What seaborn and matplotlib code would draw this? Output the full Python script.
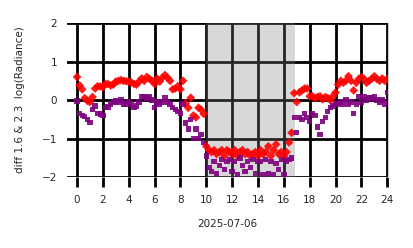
import numpy as np
import pandas as pd
import matplotlib
matplotlib.use("Agg")
import matplotlib.pyplot as plt
import seaborn as sns

# hours of day (2025-07-06)
hours = [0.0, 0.2, 0.4, 0.6, 0.8, 1.0, 1.2, 1.4, 1.6, 1.8,
         2.0, 2.2, 2.4, 2.6, 2.8, 3.0, 3.2, 3.4, 3.6, 3.8,
         4.0, 4.2, 4.4, 4.6, 4.8, 5.0, 5.2, 5.4, 5.6, 5.8,
         6.0, 6.2, 6.4, 6.6, 6.8, 7.0, 7.2, 7.4, 7.6, 7.8,
         8.0, 8.2, 8.4, 8.6, 8.8, 9.0, 9.2, 9.4, 9.6, 9.8,
         10.0, 10.2, 10.4, 10.6, 10.8, 11.0, 11.2, 11.4, 11.6, 11.8,
         12.0, 12.2, 12.4, 12.6, 12.8, 13.0, 13.2, 13.4, 13.6, 13.8,
         14.0, 14.2, 14.4, 14.6, 14.8, 15.0, 15.2, 15.4, 15.6, 15.8,
         16.0, 16.2, 16.4, 16.6, 16.8, 17.0, 17.2, 17.4, 17.6, 17.8,
         18.0, 18.2, 18.4, 18.6, 18.8, 19.0, 19.2, 19.4, 19.6, 19.8,
         20.0, 20.2, 20.4, 20.6, 20.8, 21.0, 21.2, 21.4, 21.6, 21.8,
         22.0, 22.2, 22.4, 22.6, 22.8, 23.0, 23.2, 23.4, 23.6, 23.8,
         24.0]

# red diamonds: diff of 1.6 um log radiance
diff_16 = [0.6, 0.38, 0.28, 0.05, -0.02, -0.05, 0.08, 0.3, 0.36, 0.35,
           0.34, 0.42, 0.42, 0.38, 0.4, 0.48, 0.5, 0.52, 0.5, 0.49,
           0.48, 0.46, 0.42, 0.4, 0.48, 0.56, 0.5, 0.6, 0.55, 0.5,
           0.42, 0.56, 0.48, 0.58, 0.65, 0.58, 0.5, 0.28, 0.3, 0.36,
           0.28, 0.5, -0.08, -0.2, 0.06, -0.4, -0.45, -0.2, -0.25, -0.36,
           -1.2, -1.3, -1.35, -1.3, -1.4, -1.35, -1.3, -1.45, -1.3, -1.35,
           -1.4, -1.3, -1.45, -1.35, -1.3, -1.4, -1.35, -1.45, -1.4, -1.35,
           -1.45, -1.3, -1.4, -1.35, -1.2, -1.45, -1.3, -1.15, -1.4, -1.35,
           -1.45, -1.35, -1.1, -0.85, 0.18, -0.05, 0.2, 0.25, 0.3, 0.3,
           0.1, 0.1, 0.05, 0.08, 0.1, 0.02, 0.08, 0.05, 0.0, 0.1,
           0.2, 0.4, 0.5, 0.45, 0.5, 0.62, 0.5, 0.25, 0.45, 0.55,
           0.6, 0.55, 0.45, 0.5, 0.55, 0.62, 0.55, 0.5, 0.56, 0.5,
           0.55]

# purple squares: diff of 2.3 um log radiance
diff_23 = [-0.02, -0.35, -0.4, -0.42, -0.5, -0.58, -0.25, -0.15, -0.35, -0.36,
           -0.4, -0.2, -0.18, -0.1, -0.05, -0.02, -0.05, 0.0, -0.1, -0.1,
           -0.05, -0.1, -0.2, -0.15, -0.05, 0.1, 0.1, 0.05, 0.1, 0.0,
           -0.2, -0.05, -0.1, -0.05, 0.05, -0.05, -0.1, -0.2, -0.25, -0.3,
           -0.35, -0.1, -0.6, -0.75, -0.5, -1.0, -0.75, -1.0, -0.9, -1.1,
           -1.45, -1.75, -1.85, -1.6, -1.9, -1.7, -1.55, -1.8, -1.6, -1.55,
           -1.85, -1.6, -1.95, -1.5, -1.7, -1.85, -1.6, -1.75, -1.55, -1.9,
           -1.6, -1.6, -1.95, -1.55, -1.9, -1.6, -1.95, -1.65, -1.8, -1.55,
           -1.95, -1.6, -1.55, -1.5, -0.45, -0.85, -0.45, -0.5, -0.35, -0.45,
           -0.55, -0.35, -0.4, -0.7, -0.9, -0.55, -0.45, -0.3, -0.2, -0.15,
           -0.1, -0.1, -0.05, -0.1, 0.02, -0.1, -0.05, -0.35, -0.1, 0.1,
           -0.05, 0.1, 0.0, 0.05, 0.05, 0.1, 0.0, -0.05, 0.0, -0.1,
           0.2]

x_ticks = [0, 2, 4, 6, 8, 10, 12, 14, 16, 18, 20, 22, 24]
y_ticks = [-2, -1, 0, 1, 2]
night_start, night_end = 10.0, 16.85

df = pd.DataFrame({"hour": hours, "d16": diff_16, "d23": diff_23})

sns.set_style("whitegrid", {"grid.color": "black", "axes.edgecolor": "#cccccc"})
plt.rcParams["font.family"] = ["DejaVu Sans"]

fig = plt.figure(figsize=(4.14, 2.48), dpi=100)
ax = fig.add_axes([0.162, 0.286, 0.775, 0.621])

ax.axvspan(night_start, night_end, color="gray", alpha=0.3, lw=0, zorder=0.6)

sns.scatterplot(data=df, x="hour", y="d16", ax=ax, marker="D", color="red",
                s=20, edgecolor="none", alpha=0.9, zorder=3)
sns.scatterplot(data=df, x="hour", y="d23", ax=ax, marker="s", color="purple",
                s=15, edgecolor="none", alpha=0.9, zorder=3)

ax.grid(True, color="black", linewidth=2.0)
ax.set_axisbelow(True)
for side in ["left", "top", "bottom"]:
    ax.spines[side].set_visible(False)
ax.set_xlim(-0.77, 24.05)
ax.set_ylim(-2, 2)
ax.set_xticks(x_ticks)
ax.set_yticks(y_ticks)
ax.set_yticklabels(["\u22122", "\u22121", "0", "1", "2"])
ax.tick_params(axis="x", length=7, width=2.0, color="black", labelsize=7.5, pad=6, bottom=True)
ax.tick_params(axis="y", length=0, labelsize=7.5, pad=7)
ax.set_xlabel("2025-07-06", fontsize=7.5, labelpad=10)
ax.set_ylabel("diff 1.6 & 2.3  log(Radiance)", fontsize=7.5, labelpad=12)

fig.savefig("out.png", dpi=100)
